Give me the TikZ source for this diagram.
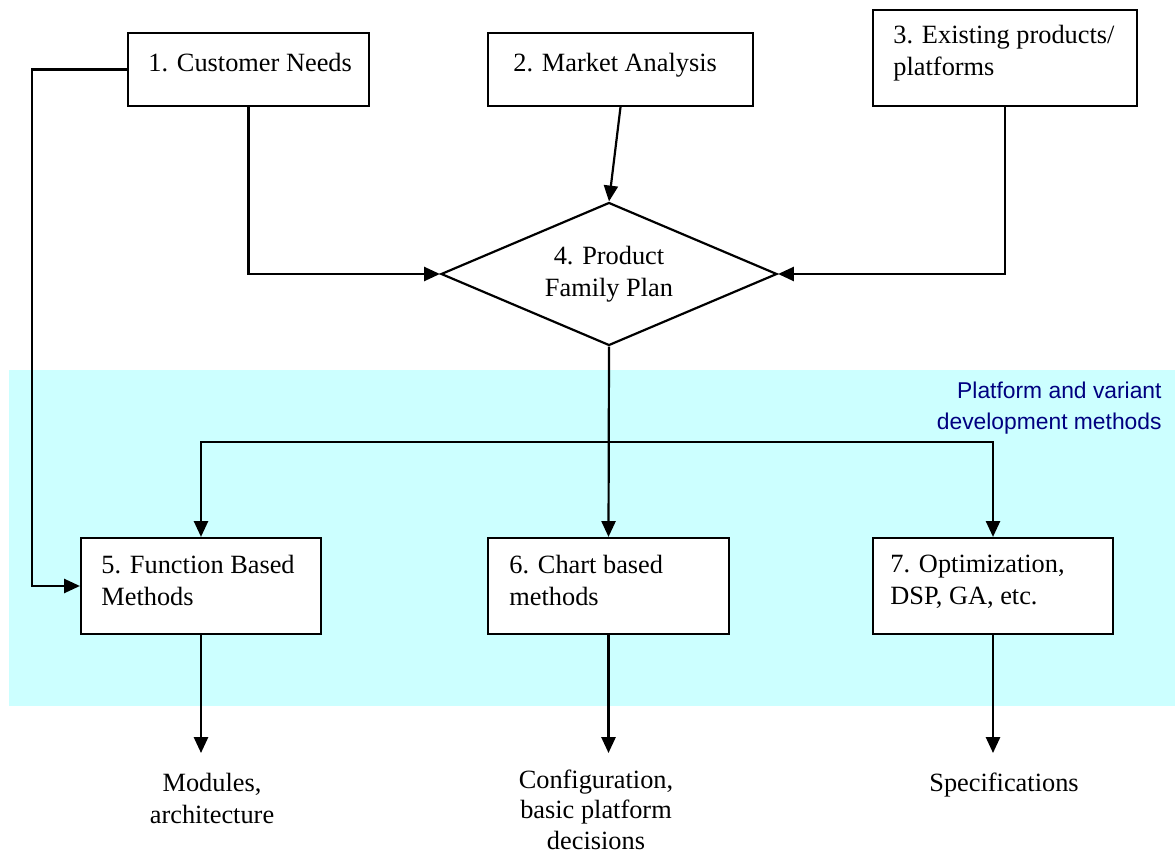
\documentclass[tikz,border=0pt]{standalone}
\usepackage{fontspec}
\setmainfont{Liberation Serif}
\newfontfamily\arialfont{Liberation Sans}
\usepackage{xcolor}
\usetikzlibrary{shapes.geometric,arrows.meta}

\definecolor{bandcyan}{HTML}{CCFFFF}
\definecolor{labelblue}{HTML}{000080}

\tikzset{
  box/.style={draw, fill=white, line width=1pt, inner sep=0pt},
  boxsize/.style 2 args={minimum width=#1*0.016cm, minimum height=#2*0.016cm},
  boxtext/.style={anchor=north west, inner sep=0pt, align=left},
  outlabel/.style={anchor=north, align=center, inner xsep=0pt, inner ysep=20*0.016cm},
  arr/.style={-{Triangle[length=7.2pt,width=6.4pt]}, line width=1pt},
}

\begin{document}
\begin{tikzpicture}[x=0.016cm, y=-0.016cm, font=\fontsize{12}{14.6}\selectfont]
    \useasboundingbox (0,0) rectangle (1175,852);

    % Draw the band of the development methods
    \fill[bandcyan] (9,370) rectangle (1175,706);
    \node[anchor=north east, align=right, inner sep=0pt, text=labelblue,
          font=\arialfont\fontsize{10.4}{13.7}\selectfont] (bandlabel) at (1162,382)
          {Platform and variant\\development methods};

    % Draw the three inputs
    \node[box, boxsize={241}{73}] (needs) at (248.5,69.5) {};
    \node[boxtext] (needstext) at (148,53) {1. Customer Needs};
    \node[box, boxsize={265}{73}] (market) at (620.5,69.5) {};
    \node[boxtext] (markettext) at (513,53) {2. Market Analysis};
    \node[box, boxsize={264}{96}] (existing) at (1005,58) {};
    \node[boxtext] (existingtext) at (893,25) {3. Existing products/\\platforms};

    % Draw the product family plan
    \node[diamond, draw, fill=white, line width=1pt, aspect=2.35, inner sep=0pt,
          minimum width=336*0.016cm, minimum height=143*0.016cm, align=center]
          (plan) at (609,274) {4. Product\\Family Plan};

    % Draw the three methods
    \node[box, boxsize={240}{96}] (func) at (201,586) {};
    \node[boxtext] (functext) at (101,555) {5. Function Based\\Methods};
    \node[box, boxsize={241}{96}] (chart) at (608.5,586) {};
    \node[boxtext] (charttext) at (509,555) {6. Chart based\\methods};
    \node[box, boxsize={240}{96}] (optim) at (993,586) {};
    \node[boxtext] (optimtext) at (890,555) {7. Optimization,\\DSP, GA, etc.};

    % Draw the results
    \node[outlabel] (modules) at (212,753) {Modules,\\architecture};
    \node[outlabel, inner ysep=16*0.016cm, font=\fontsize{12}{14}\selectfont] (config) at (596,753)
          {Configuration,\\basic platform\\decisions};
    \node[outlabel] (specs) at (1004,753) {Specifications};

    % Inputs into the plan
    \draw[arr] (needs.south) |- (plan.west);
    \draw[arr] (market.south) -- (plan.north);
    \draw[arr] (existing.south) |- (plan.east);
    \draw[arr] (needs.west) -- ++(-95,0) |- (func.west);

    % Plan into the methods
    \coordinate (split) at (609,442);
    \draw[arr] (plan.south) -- (chart.north);
    \draw[arr] (split) -| (func.north);
    \draw[arr] (split) -| (optim.north);

    % Methods into the results
    \draw[arr] (func.south) -- (func.south |- modules.north);
    \draw[arr] (chart.south) -- (chart.south |- config.north);
    \draw[arr] (optim.south) -- (optim.south |- specs.north);

\end{tikzpicture}
\end{document}
